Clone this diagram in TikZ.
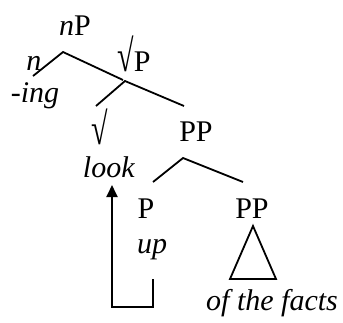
\documentclass[tikz,border=0pt]{standalone}
\usepackage{fontspec}
\setmainfont{Liberation Serif}
\usetikzlibrary{arrows.meta}
\newcommand{\tallroot}{\scalebox{1}[1.5]{√}}
\begin{document}
\begin{tikzpicture}[x=1pt,y=-1pt,
  lbl/.style={anchor=base,inner sep=0pt,font=\fontsize{30}{36}\selectfont},
  branch/.style={line width=1.8pt},
  mover/.style={line width=1.8pt,-{Triangle[length=12pt,width=11pt]}}]
\useasboundingbox (0,0) rectangle (343,322);
% labels
\node[lbl] (nP) at (75,35) {\textit{n}P};
\node[lbl] (n) at (34,70) {\textit{n}};
\node[lbl] (ing) at (35,102) {\textit{-ing}};
\node[lbl] (rP) at (134,71) {\tallroot P};
\node[lbl] (r) at (100,144) {\tallroot};
\node[lbl] (PP1) at (196,141) {PP};
\node[lbl] (look) at (109,177) {\textit{look}};
\node[lbl] (P) at (146,218) {P};
\node[lbl] (PP2) at (252,218) {PP};
\node[lbl] (up) at (152,253) {\textit{up}};
\node[lbl] (facts) at (272,310) {\textit{of the facts}};
% branch points
\coordinate (a1) at (63,52);
\coordinate (a1l) at (33,76);
\coordinate (a1r) at (123,80);
\coordinate (a2) at (125,81);
\coordinate (a2l) at (96,106);
\coordinate (a2r) at (184,106);
\coordinate (a3) at (183,158);
\coordinate (a3l) at (153,182);
\coordinate (a3r) at (243,182);
\coordinate (t1) at (253,226);
\coordinate (t2) at (230,279);
\coordinate (t3) at (276,279);
\draw[branch] (a1l) -- (a1) -- (a1r);
\draw[branch] (a2l) -- (a2) -- (a2r);
\draw[branch] (a3l) -- (a3) -- (a3r);
\draw[branch,line join=miter] (t1) -- (t2) -- (t3) -- cycle;
% movement arrow
\coordinate (m0) at (153,279);
\coordinate (m1) at (153,307);
\coordinate (m2) at (112,307);
\coordinate (m3) at (112,185);
\draw[mover] (m0) -- (m1) -- (m2) -- (m3);
\end{tikzpicture}
\end{document}
